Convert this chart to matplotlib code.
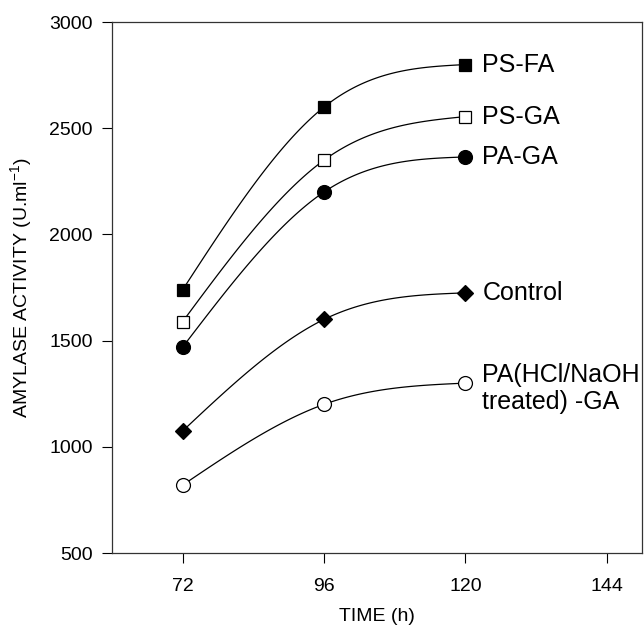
import numpy as np
import matplotlib.pyplot as plt

plt.rcParams['font.family'] = ['Liberation Sans', 'DejaVu Sans']

# Data
hours = [72, 96, 120]
ps_fa = [1740, 2600, 2800]
ps_ga = [1590, 2350, 2555]
pa_ga = [1470, 2200, 2365]
control = [1075, 1600, 1725]
pa_treated_ga = [820, 1200, 1300]

series = [
    (ps_fa, 's', 'black', 'PS-FA'),
    (ps_ga, 's', 'white', 'PS-GA'),
    (pa_ga, 'o', 'black', 'PA-GA'),
    (control, 'D', 'black', 'Control'),
    (pa_treated_ga, 'o', 'white', 'PA(HCl/NaOH\ntreated) -GA'),
]
label_offsets = {'PS-FA': 0, 'PS-GA': 0, 'PA-GA': 0, 'Control': 0,
                 'PA(HCl/NaOH\ntreated) -GA': -25}


def natural_spline(x, y, n=60):
    # smooth curve through the points (natural cubic spline, equal spacing)
    x = np.asarray(x, float)
    y = np.asarray(y, float)
    h = x[1] - x[0]
    m = np.zeros(3)
    m[1] = 1.5 * (y[0] - 2 * y[1] + y[2]) / h**2
    xs, ys = [], []
    for i in range(2):
        t = np.linspace(x[i], x[i + 1], n)
        s = (m[i] * (x[i + 1] - t)**3 / (6 * h) + m[i + 1] * (t - x[i])**3 / (6 * h)
             + (y[i] / h - m[i] * h / 6) * (x[i + 1] - t)
             + (y[i + 1] / h - m[i + 1] * h / 6) * (t - x[i]))
        xs.append(t)
        ys.append(s)
    return np.concatenate(xs), np.concatenate(ys)


fig = plt.figure(figsize=(6.44, 6.31), dpi=100)
ax = fig.add_axes([0.174, 0.1236, 0.823, 0.8414])

for vals, mk, fc, name in series:
    cx, cy = natural_spline(hours, vals)
    ax.plot(cx, cy, color='black', linewidth=0.9, zorder=2)
    ms = 9 if mk == 's' else (8 if mk == 'D' else 10)
    ax.plot(hours, vals, linestyle='none', marker=mk, markersize=ms,
            markerfacecolor=fc, markeredgecolor='black', markeredgewidth=0.9, zorder=3)
    ax.text(hours[-1] + 2.9, vals[-1] + label_offsets[name], name, fontsize=18,
            va='center', ha='left', clip_on=False, linespacing=1.2)

ax.set_xlim(60, 150)
ax.set_ylim(500, 3000)
ax.set_xticks([72, 96, 120, 144])
ax.set_yticks([500, 1000, 1500, 2000, 2500, 3000])
ax.tick_params(axis='x', direction='out', length=7, width=0.8, pad=11, labelsize=14)
ax.tick_params(axis='y', direction='out', length=7, width=0.8, pad=7, labelsize=14)
for sp in ax.spines.values():
    sp.set_linewidth(0.9)
    sp.set_color('#333333')

ax.set_xlabel('TIME (h)', fontsize=14, labelpad=9)
ax.set_ylabel(r'AMYLASE ACTIVITY (U.ml$^{\mathregular{-1}}$)', fontsize=14, labelpad=10)

fig.savefig('out.png', dpi=100)
